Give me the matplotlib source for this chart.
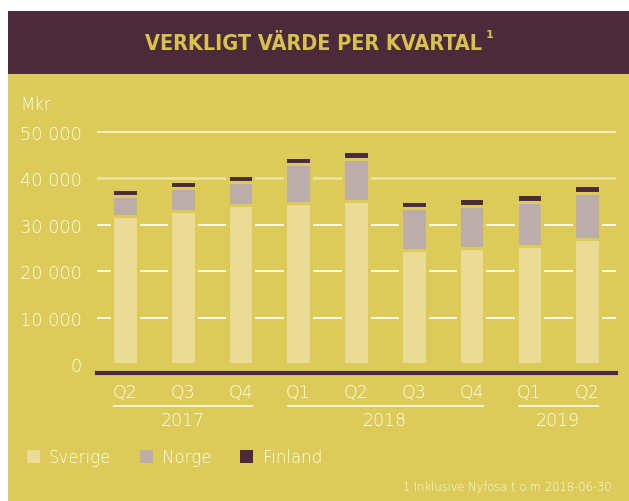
import matplotlib
matplotlib.use('Agg')
import matplotlib.pyplot as plt
from matplotlib.patches import Rectangle, Patch
from matplotlib.transforms import blended_transform_factory

# data (Mkr)
quarters = ['Q2', 'Q3', 'Q4', 'Q1', 'Q2', 'Q3', 'Q4', 'Q1', 'Q2']
years = ['2017', '2018', '2019']
year_spans = [(0, 2), (3, 6), (7, 8)]
sverige = [31800, 32900, 34200, 34600, 35200, 24500, 25100, 25400, 26900]
norge = [4500, 5000, 5100, 8400, 9050, 9100, 9000, 9500, 9850]
finland = [1500, 1500, 1450, 1550, 1650, 1550, 1600, 1700, 1850]
yticks = [0, 10000, 20000, 30000, 40000, 50000]
ytick_labels = ['0', '10 000', '20 000', '30 000', '40 000', '50 000']

BG = '#dccb58'
DARK = '#4b2b39'
C_SE = '#eadc96'
C_NO = '#bcadaa'
C_FI = DARK
TXT = '#fffdf2'
TITLE_C = '#d8c24e'
FONT = 'DejaVu Sans'
FW = 'light'

W, H = 629, 502
fig = plt.figure(figsize=(W / 100, H / 100), dpi=100)
fig.patch.set_facecolor('white')

def fx(px):
    return px / W

def fy(py):
    return 1 - py / H

# yellow panel + title band (behind the axes)
fig.patches.append(Rectangle((fx(8), 0), 1 - fx(8), fy(75), transform=fig.transFigure,
                             facecolor=BG, edgecolor='none', zorder=-2))
fig.patches.append(Rectangle((fx(8), fy(75)), 1 - fx(8), fy(12) - fy(75), transform=fig.transFigure,
                             facecolor=DARK, edgecolor='none', zorder=-2))

fig.text(fx(313.5), fy(44), 'VERKLIGT VÄRDE PER KVARTAL', ha='center', va='center',
         color=TITLE_C, fontsize=15.5, fontweight='heavy',
         family='DejaVu Sans', fontstretch='condensed')
fig.text(fx(486), fy(35), '1', ha='left', va='center', color=TITLE_C, fontsize=8,
         fontweight='bold', family='DejaVu Sans')

ax = fig.add_axes([fx(97), fy(374.3), fx(616) - fx(97), fy(123.7) - fy(374.3)])
ax.set_facecolor('none')
ax.set_xlim(-0.485, 8.5)
ax.set_ylim(-2000, 52000)
for s in ax.spines.values():
    s.set_visible(False)

x = list(range(len(quarters)))

# gridlines
grid_cols = {10000: '#fffdf0', 20000: '#fffdf0', 30000: '#fffdf0', 40000: '#efe4a2', 50000: '#f8f1c0'}
for v, c in grid_cols.items():
    ax.axhline(v, color=c, lw=1.3 if v != 40000 else 1.8, zorder=1)

totals = [s + n + f for s, n, f in zip(sverige, norge, finland)]
# background halo so gridlines break around the bars
ax.bar(x, totals, width=0.5, color=BG, edgecolor='none', zorder=2)

bw = 0.445
lw = 2.2
ax.bar(x, sverige, width=bw, color=C_SE, edgecolor=BG, linewidth=lw, zorder=3)
ax.bar(x, norge, width=bw, bottom=sverige, color=C_NO, edgecolor=BG, linewidth=lw, zorder=3)
bottom3 = [s + n for s, n in zip(sverige, norge)]
ax.bar(x, finland, width=bw, bottom=bottom3, color=C_FI, edgecolor=BG, linewidth=lw, zorder=3)

# baseline
ax.axhline(-1850, color=DARK, lw=3.0, zorder=4, clip_on=False)

ax.set_yticks(yticks)
ax.set_yticklabels(ytick_labels)
ax.tick_params(axis='y', length=0, pad=11, labelsize=12.8, labelcolor=TXT)
for lab in ax.get_yticklabels():
    lab.set_family(FONT)
    lab.set_fontweight(FW)
ax.set_xticks([])

fig.text(fx(20), fy(105), 'Mkr', ha='left', va='center', color=TXT, fontsize=12,
         family=FONT, fontweight=FW)

tr = blended_transform_factory(ax.transData, fig.transFigure)
for xi, q in zip(x, quarters):
    ax.text(xi, fy(393.5), q, transform=tr, ha='center', va='center', color=TXT,
            fontsize=12.5, family=FONT, fontweight=FW, clip_on=False)
for yr, (a, b) in zip(years, year_spans):
    ax.plot([a - 0.2, b + 0.21], [fy(406.7)] * 2, transform=tr, color=TXT, lw=1.1,
            clip_on=False, solid_capstyle='butt')
    ax.text((a + b) / 2, fy(421), yr, transform=tr, ha='center', va='center', color=TXT,
            fontsize=12.5, family=FONT, fontweight=FW, clip_on=False)

handles = [Patch(facecolor=C_SE, edgecolor='none'), Patch(facecolor=C_NO, edgecolor='none'),
           Patch(facecolor=C_FI, edgecolor='none')]
leg = fig.legend(handles, ['Sverige', 'Norge', 'Finland'], loc='center left',
                 bbox_to_anchor=(fx(26.5), fy(458)), ncol=3, frameon=False,
                 handlelength=0.8, handleheight=0.8, handletextpad=0.55, columnspacing=1.7,
                 borderpad=0, borderaxespad=0,
                 prop={'family': FONT, 'weight': FW, 'size': 12})
for t in leg.get_texts():
    t.set_color(TXT)

fig.text(fx(612), fy(487), '1 Inklusive Nyfosa t o m 2018-06-30', ha='right', va='center',
         color=TXT, fontsize=8.3, family=FONT, fontweight=FW)

fig.savefig('out.png', dpi=100, facecolor=fig.get_facecolor())
